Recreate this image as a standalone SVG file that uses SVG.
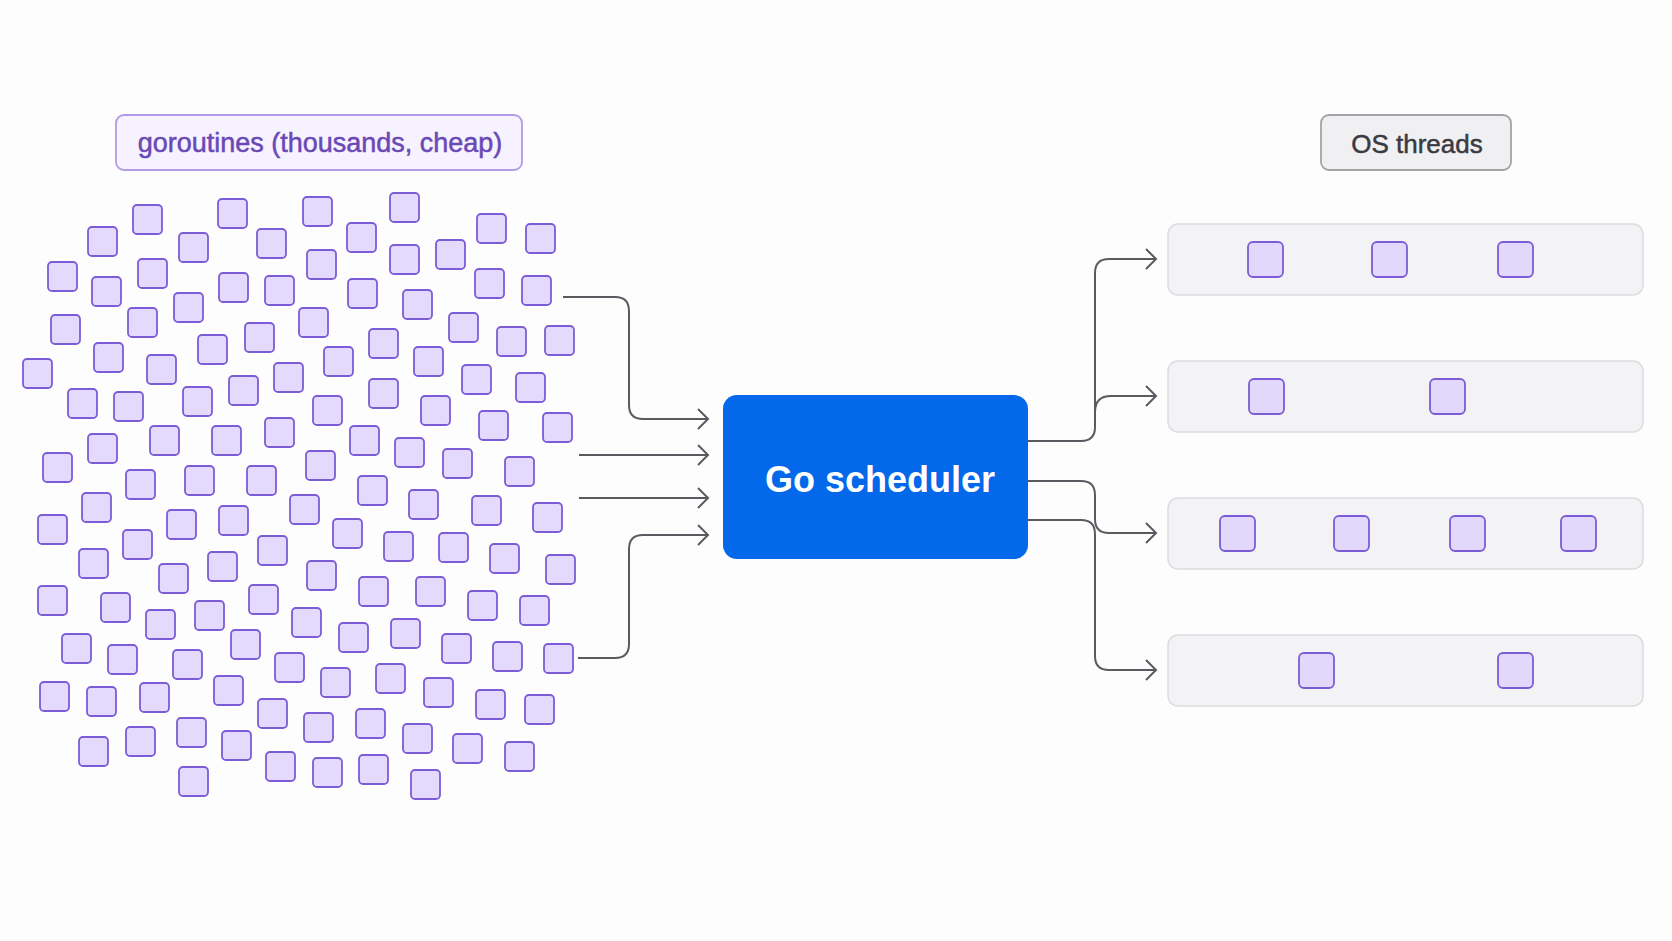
<svg xmlns="http://www.w3.org/2000/svg" width="1672" height="941" viewBox="0 0 1672 941">
<style>
.g{fill:#e4dafd;stroke:#7b5cd6;stroke-width:1.8}
.t{fill:#e2d8fc;stroke:#7b5cd6;stroke-width:1.8}
.bar{fill:#f3f3f5;stroke:#dcdce0;stroke-width:1.5}
.c{fill:none;stroke:#5a5a60;stroke-width:2}
.lbl{font-family:"Liberation Sans",Arial,sans-serif}
</style>
<defs>
<marker id="arr" viewBox="-12 -12 14 24" markerWidth="14" markerHeight="24" refX="0" refY="0" orient="auto" markerUnits="userSpaceOnUse">
<path d="M-10,-10 L0,0 L-10,10" fill="none" stroke="#5a5a60" stroke-width="2"/>
</marker>
<symbol id="sq" overflow="visible"><rect class="g" x="0" y="0" width="29" height="29" rx="4"/></symbol>
</defs>
<rect width="1672" height="941" fill="#fdfdfe"/>

<g id="goroutines-label">
<rect x="116" y="115" width="406" height="55" rx="8" fill="#f6f2ff" stroke="#b29be6" stroke-width="1.8"/>
<text class="lbl" x="320" y="152" font-size="27" fill="#6a48b5" stroke="#6a48b5" stroke-width="0.5" text-anchor="middle">goroutines (thousands, cheap)</text>
</g>

<g id="goroutines">
<use href="#sq" x="133" y="205"/><use href="#sq" x="218" y="199"/><use href="#sq" x="88" y="227"/><use href="#sq" x="179" y="233"/><use href="#sq" x="257" y="229"/>
<use href="#sq" x="48" y="262"/><use href="#sq" x="138" y="259"/><use href="#sq" x="92" y="277"/><use href="#sq" x="219" y="273"/><use href="#sq" x="265" y="276"/>
<use href="#sq" x="174" y="293"/><use href="#sq" x="51" y="315"/><use href="#sq" x="128" y="308"/><use href="#sq" x="245" y="323"/><use href="#sq" x="198" y="335"/>
<use href="#sq" x="94" y="343"/><use href="#sq" x="23" y="359"/><use href="#sq" x="147" y="355"/><use href="#sq" x="274" y="363"/><use href="#sq" x="229" y="376"/>
<use href="#sq" x="68" y="389"/><use href="#sq" x="114" y="392"/><use href="#sq" x="183" y="387"/><use href="#sq" x="265" y="418"/><use href="#sq" x="150" y="426"/>
<use href="#sq" x="212" y="426"/><use href="#sq" x="88" y="434"/><use href="#sq" x="43" y="453"/><use href="#sq" x="126" y="470"/><use href="#sq" x="185" y="466"/>
<use href="#sq" x="247" y="466"/><use href="#sq" x="82" y="493"/><use href="#sq" x="290" y="495"/>
<use href="#sq" x="303" y="197"/><use href="#sq" x="390" y="193"/><use href="#sq" x="347" y="223"/><use href="#sq" x="477" y="214"/><use href="#sq" x="526" y="224"/>
<use href="#sq" x="307" y="250"/><use href="#sq" x="390" y="245"/><use href="#sq" x="436" y="240"/><use href="#sq" x="475" y="269"/><use href="#sq" x="522" y="276"/>
<use href="#sq" x="348" y="279"/><use href="#sq" x="403" y="290"/><use href="#sq" x="299" y="308"/><use href="#sq" x="449" y="313"/><use href="#sq" x="497" y="327"/>
<use href="#sq" x="545" y="326"/><use href="#sq" x="369" y="329"/><use href="#sq" x="324" y="347"/><use href="#sq" x="414" y="347"/><use href="#sq" x="462" y="365"/>
<use href="#sq" x="516" y="373"/><use href="#sq" x="369" y="379"/><use href="#sq" x="313" y="396"/><use href="#sq" x="421" y="396"/><use href="#sq" x="479" y="411"/>
<use href="#sq" x="543" y="413"/><use href="#sq" x="350" y="426"/><use href="#sq" x="395" y="438"/><use href="#sq" x="306" y="451"/><use href="#sq" x="443" y="449"/>
<use href="#sq" x="505" y="457"/><use href="#sq" x="358" y="476"/><use href="#sq" x="409" y="490"/><use href="#sq" x="472" y="496"/>
<use href="#sq" x="38" y="515"/><use href="#sq" x="167" y="510"/><use href="#sq" x="219" y="506"/><use href="#sq" x="123" y="530"/><use href="#sq" x="258" y="536"/>
<use href="#sq" x="79" y="549"/><use href="#sq" x="208" y="552"/><use href="#sq" x="159" y="564"/><use href="#sq" x="38" y="586"/><use href="#sq" x="101" y="593"/>
<use href="#sq" x="249" y="585"/><use href="#sq" x="195" y="601"/><use href="#sq" x="146" y="610"/><use href="#sq" x="292" y="608"/><use href="#sq" x="62" y="634"/>
<use href="#sq" x="108" y="645"/><use href="#sq" x="231" y="630"/><use href="#sq" x="173" y="650"/><use href="#sq" x="275" y="653"/><use href="#sq" x="40" y="682"/>
<use href="#sq" x="87" y="687"/><use href="#sq" x="140" y="683"/><use href="#sq" x="214" y="676"/><use href="#sq" x="258" y="699"/><use href="#sq" x="126" y="727"/>
<use href="#sq" x="79" y="737"/><use href="#sq" x="177" y="718"/><use href="#sq" x="222" y="731"/><use href="#sq" x="266" y="752"/><use href="#sq" x="179" y="767"/>
<use href="#sq" x="533" y="503"/><use href="#sq" x="333" y="519"/><use href="#sq" x="384" y="532"/><use href="#sq" x="439" y="533"/><use href="#sq" x="490" y="544"/>
<use href="#sq" x="546" y="555"/><use href="#sq" x="307" y="561"/><use href="#sq" x="359" y="577"/><use href="#sq" x="416" y="577"/><use href="#sq" x="468" y="591"/>
<use href="#sq" x="520" y="596"/><use href="#sq" x="339" y="623"/><use href="#sq" x="391" y="619"/><use href="#sq" x="442" y="634"/><use href="#sq" x="493" y="642"/>
<use href="#sq" x="544" y="644"/><use href="#sq" x="321" y="668"/><use href="#sq" x="376" y="664"/><use href="#sq" x="424" y="678"/><use href="#sq" x="476" y="690"/>
<use href="#sq" x="525" y="695"/><use href="#sq" x="304" y="713"/><use href="#sq" x="356" y="709"/><use href="#sq" x="403" y="724"/><use href="#sq" x="453" y="734"/>
<use href="#sq" x="505" y="742"/><use href="#sq" x="313" y="758"/><use href="#sq" x="359" y="755"/><use href="#sq" x="411" y="770"/>
</g>

<g id="connectors">
<path class="c" d="M563,297 H615 Q629,297 629,311 V405 Q629,419 643,419 H708" marker-end="url(#arr)"/>
<path class="c" d="M579,455 H708" marker-end="url(#arr)"/>
<path class="c" d="M579,498 H708" marker-end="url(#arr)"/>
<path class="c" d="M578,658 H615 Q629,658 629,644 V549 Q629,535 643,535 H708" marker-end="url(#arr)"/>
<path class="c" d="M1028,441 H1081 Q1095,441 1095,427 V273 Q1095,259 1109,259 H1156" marker-end="url(#arr)"/>
<path class="c" d="M1095,412 Q1095,396 1111,396 H1156" marker-end="url(#arr)"/>
<path class="c" d="M1028,481 H1081 Q1095,481 1095,495 V519 Q1095,533 1109,533 H1156" marker-end="url(#arr)"/>
<path class="c" d="M1028,520 H1081 Q1095,520 1095,534 V656 Q1095,670 1109,670 H1156" marker-end="url(#arr)"/>
</g>

<g id="scheduler">
<rect x="723" y="395" width="305" height="164" rx="14" fill="#0368ea"/>
<text class="lbl" x="880" y="492" font-size="36" font-weight="bold" fill="#ffffff" text-anchor="middle">Go scheduler</text>
</g>

<g id="os-threads-label">
<rect x="1321" y="115" width="190" height="55" rx="8" fill="#f0f0f2" stroke="#a4a4a8" stroke-width="1.8"/>
<text class="lbl" x="1417" y="153" font-size="26" fill="#3a3a40" stroke="#3a3a40" stroke-width="0.5" text-anchor="middle">OS threads</text>
</g>

<g id="thread-1">
<rect class="bar" x="1168" y="224" width="475" height="71" rx="10"/>
<rect class="t" x="1248" y="242" width="35" height="35" rx="5"/>
<rect class="t" x="1372" y="242" width="35" height="35" rx="5"/>
<rect class="t" x="1498" y="242" width="35" height="35" rx="5"/>
</g>
<g id="thread-2">
<rect class="bar" x="1168" y="361" width="475" height="71" rx="10"/>
<rect class="t" x="1249" y="379" width="35" height="35" rx="5"/>
<rect class="t" x="1430" y="379" width="35" height="35" rx="5"/>
</g>
<g id="thread-3">
<rect class="bar" x="1168" y="498" width="475" height="71" rx="10"/>
<rect class="t" x="1220" y="516" width="35" height="35" rx="5"/>
<rect class="t" x="1334" y="516" width="35" height="35" rx="5"/>
<rect class="t" x="1450" y="516" width="35" height="35" rx="5"/>
<rect class="t" x="1561" y="516" width="35" height="35" rx="5"/>
</g>
<g id="thread-4">
<rect class="bar" x="1168" y="635" width="475" height="71" rx="10"/>
<rect class="t" x="1299" y="653" width="35" height="35" rx="5"/>
<rect class="t" x="1498" y="653" width="35" height="35" rx="5"/>
</g>
</svg>
